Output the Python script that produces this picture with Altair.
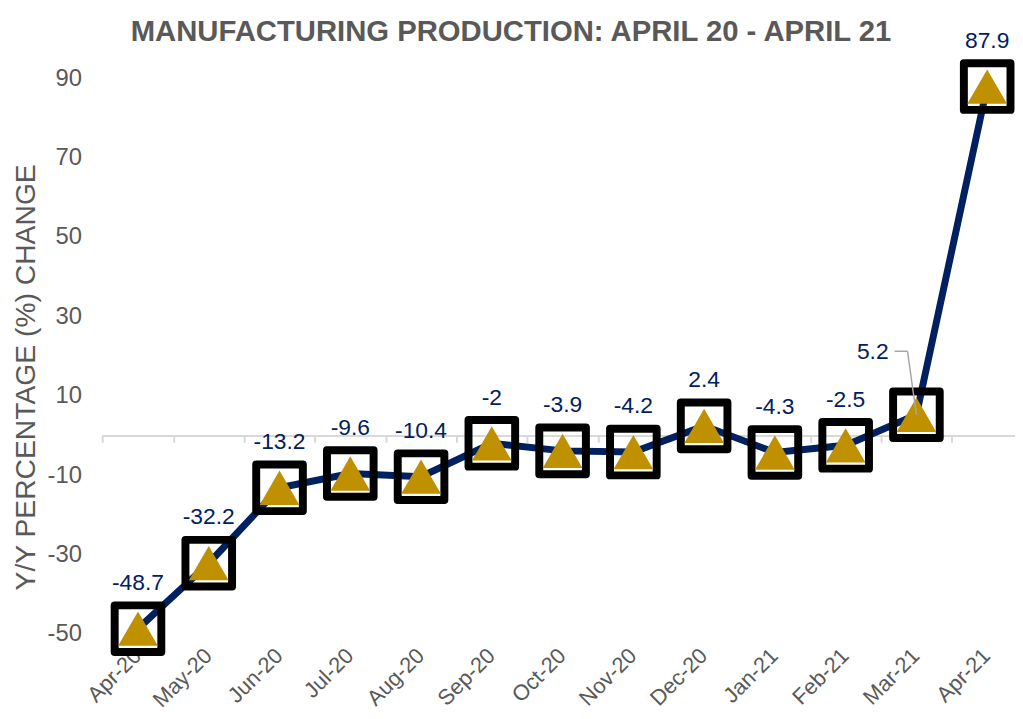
import altair as alt
import pandas as pd

months = ["Apr-20", "May-20", "Jun-20", "Jul-20", "Aug-20", "Sep-20", "Oct-20",
          "Nov-20", "Dec-20", "Jan-21", "Feb-21", "Mar-21", "Apr-21"]
values = [-48.7, -32.2, -13.2, -9.6, -10.4, -2.0, -3.9, -4.2, 2.4, -4.3, -2.5, 5.2, 87.9]
y_ticks = [-50, -30, -10, 10, 30, 50, 70, 90]
title_text = "MANUFACTURING PRODUCTION: APRIL 20 - APRIL 21"
y_title = "Y/Y PERCENTAGE (%) CHANGE"
offset_label_month = "Mar-21"

df = pd.DataFrame({
    "idx": list(range(len(months))),
    "month": months,
    "value": values,
    "label": [f"{v:g}" for v in values],
})
title_df = pd.DataFrame({"t": [title_text]})

NAVY = "#002060"
GOLD = "#BF9000"
GRAY = "#595959"
LIGHT = "#D9D9D9"
FONT = "Liberation Sans"

W, H = 920, 560
y_dom = [-50, 90]
zero_offset = -H * (0 - y_dom[0]) / (y_dom[1] - y_dom[0])

xs = alt.Scale(domain=[-0.505, 12.393], nice=False, zero=False)
ys = alt.Scale(domain=y_dom, nice=False, zero=False)

label_expr = "[" + ",".join(f"'{m}'" for m in months) + "][datum.value]"

x_label_axis = alt.Axis(
    values=list(range(len(months))), labelExpr=label_expr, labelAngle=-45,
    labelAlign="right", labelBaseline="top", labelFontSize=22, labelColor=GRAY,
    labelFont=FONT, labelPadding=11, labelOffset=-8, domain=False, ticks=False,
    grid=False, title=None, labelOverlap=False, labelFlush=False,
    labelBound=False, orient="bottom")

zero_axis = alt.Axis(
    values=[i - 0.5 for i in range(len(months))], labels=False, domain=True,
    domainColor=LIGHT, domainWidth=2, ticks=True, tickColor=LIGHT, tickWidth=2,
    tickSize=7, grid=False, title=None, orient="bottom", offset=zero_offset)

y_axis = alt.Axis(
    values=y_ticks, labelExpr="'' + datum.value", labelFontSize=24,
    labelColor=GRAY, labelFont=FONT, labelPadding=21, ticks=False, domain=False,
    grid=False, title=y_title, titleFontSize=28.5, titleFontWeight="normal",
    titleColor=GRAY, titleFont=FONT, titleX=-77, titleY=301, titleAngle=270,
    titleAlign="center", titleBaseline="middle")

base = alt.Chart(df).encode(y=alt.Y("value:Q", scale=ys, axis=y_axis))

line = base.mark_line(color=NAVY, strokeWidth=7).encode(
    x=alt.X("idx:Q", scale=xs, axis=x_label_axis))

squares = base.mark_point(
    shape="square", size=2209, filled=False, stroke="black", strokeWidth=8,
    strokeJoin="round", opacity=1).encode(
    x=alt.X("idx:Q", scale=xs, axis=zero_axis))

tri = base.mark_point(
    shape="M0,-0.866L1,0.866L-1,0.866Z", size=1600, filled=True, fill=GOLD,
    strokeWidth=0, opacity=1).encode(
    x=alt.X("idx:Q", scale=xs, axis=None))

labels = base.mark_text(dy=-46, fontSize=23, color=NAVY, font=FONT).encode(
    x=alt.X("idx:Q", scale=xs, axis=None), text="label:N"
).transform_filter(alt.datum.month != offset_label_month)

label_off = base.mark_text(dx=-44, dy=-63, fontSize=23, color=NAVY, font=FONT).encode(
    x=alt.X("idx:Q", scale=xs, axis=None), text="label:N"
).transform_filter(alt.datum.month == offset_label_month)

leader1 = base.mark_rule(color="#A6A6A6", strokeWidth=1.5, x2Offset=-9, y2Offset=-64).encode(
    x=alt.X("idx:Q", scale=xs, axis=None), x2="idx:Q", y2="value:Q"
).transform_filter(alt.datum.month == offset_label_month)

leader2 = base.mark_rule(color="#A6A6A6", strokeWidth=1.5, xOffset=-22, yOffset=-64,
                         x2Offset=-9, y2Offset=-64).encode(
    x=alt.X("idx:Q", scale=xs, axis=None), x2="idx:Q", y2="value:Q"
).transform_filter(alt.datum.month == offset_label_month)

title_mark = alt.Chart(title_df).mark_text(
    fontSize=29.5, font=FONT, fontWeight="bold", color=GRAY, align="center",
    baseline="alphabetic").encode(
    text="t:N", x=alt.value(412), y=alt.value(-38))

chart = alt.layer(line, squares, tri, labels, label_off, leader1, leader2,
                  title_mark).resolve_axis(
    x="independent"
).properties(
    width=W, height=H,
    autosize=alt.AutoSizeParams(type="none"),
    padding={"left": 95, "top": 68, "right": 0, "bottom": 75},
    background="white",
).configure_view(stroke=None)

chart.save("out.html", embed_options={"renderer": "svg", "actions": False})
